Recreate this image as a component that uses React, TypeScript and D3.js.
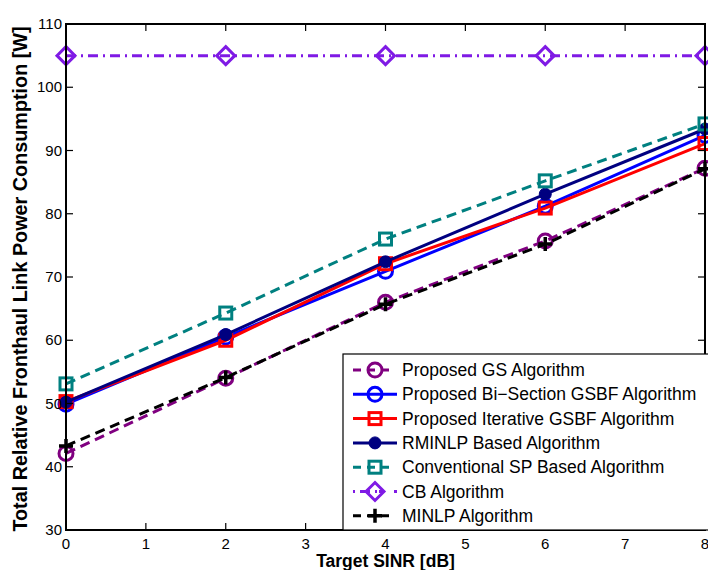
import React from "react";
import * as d3 from "d3";

const xValues = [0, 2, 4, 6, 8];
const gsValues = [42.1, 54.0, 66.0, 75.7, 87.2];
const biValues = [49.9, 60.5, 70.9, 81.2, 92.4];
const iterValues = [50.3, 60.0, 72.1, 80.9, 91.1];
const rminlpValues = [50.2, 60.9, 72.4, 83.1, 93.4];
const spValues = [53.1, 64.3, 76.0, 85.2, 94.2];
const cbValues = [105, 105, 105, 105, 105];
const minlpValues = [43.3, 54.1, 65.7, 75.2, 87.1];

const xTicks = [0, 1, 2, 3, 4, 5, 6, 7, 8];
const yTicks = [30, 40, 50, 60, 70, 80, 90, 100, 110];

const seriesNames = [
  "Proposed GS Algorithm",
  "Proposed Bi\u2212Section GSBF Algorithm",
  "Proposed Iterative GSBF Algorithm",
  "RMINLP Based Algorithm",
  "Conventional SP Based Algorithm",
  "CB Algorithm",
  "MINLP Algorithm",
];

type Marker = "circle" | "square" | "dot" | "diamond" | "plus";
interface S { name: string; values: number[]; color: string; dash: string; marker: Marker; }

const series: S[] = [
  { name: seriesNames[0], values: gsValues, color: "#800080", dash: "10,6", marker: "circle" },
  { name: seriesNames[1], values: biValues, color: "#0000FF", dash: "", marker: "circle" },
  { name: seriesNames[2], values: iterValues, color: "#FF0000", dash: "", marker: "square" },
  { name: seriesNames[3], values: rminlpValues, color: "#000080", dash: "", marker: "dot" },
  { name: seriesNames[4], values: spValues, color: "#008080", dash: "10,6", marker: "square" },
  { name: seriesNames[5], values: cbValues, color: "#7F1AE5", dash: "10,5,2,5", marker: "diamond" },
  { name: seriesNames[6], values: minlpValues, color: "#000000", dash: "10,6", marker: "plus" },
];

const L = 66, R = 705, T = 24, B = 530;
const x = d3.scaleLinear().domain([0, 8]).range([L, R]);
const y = d3.scaleLinear().domain([30, 110]).range([B, T]);

function MarkerShape({ m, cx, cy, color }: { m: Marker; cx: number; cy: number; color: string }) {
  const sw = 3;
  if (m === "circle") return <circle cx={cx} cy={cy} r={7} fill="none" stroke={color} strokeWidth={sw} />;
  if (m === "square") return <rect x={cx - 6} y={cy - 6} width={12} height={12} fill="none" stroke={color} strokeWidth={sw} />;
  if (m === "dot") return <circle cx={cx} cy={cy} r={6} fill={color} stroke={color} strokeWidth={1} />;
  if (m === "diamond") return <path d={`M${cx},${cy - 9}L${cx + 9},${cy}L${cx},${cy + 9}L${cx - 9},${cy}Z`} fill="none" stroke={color} strokeWidth={sw} />;
  return <path d={`M${cx - 7},${cy}H${cx + 7}M${cx},${cy - 7}V${cy + 7}`} fill="none" stroke={color} strokeWidth={3.5} />;
}

export default function App() {
  const line = d3.line<number>().x((_, i) => x(xValues[i])).y((d) => y(d));
  const font = "'Liberation Sans', Arial, Helvetica, sans-serif";
  const legX = 343, legY = 354, legW = 366, legH = 176;
  const rowY = (i: number) => 370 + i * 24.3;
  return (
    <svg width={708} height={570} style={{ position: "absolute", left: 0, top: 0, background: "#fff" }} fontFamily={font}>
      <rect x={0} y={0} width={708} height={570} fill="#fff" />
      {series.map((s, si) => (
        <g key={si}>
          <path d={line(s.values) || ""} fill="none" stroke={s.color} strokeWidth={3} strokeDasharray={s.dash} />
          {s.values.map((v, i) => (
            <MarkerShape key={i} m={s.marker} cx={x(xValues[i])} cy={y(v)} color={s.color} />
          ))}
        </g>
      ))}
      {/* axes box */}
      <rect x={L} y={T} width={R - L} height={B - T} fill="none" stroke="#000" strokeWidth={2} />
      {xTicks.map((t) => (
        <g key={"x" + t}>
          <line x1={x(t)} x2={x(t)} y1={B} y2={B - 7} stroke="#000" strokeWidth={1.2} />
          <line x1={x(t)} x2={x(t)} y1={T} y2={T + 7} stroke="#000" strokeWidth={1.2} />
          <text x={x(t)} y={549} textAnchor="middle" fontSize={15} fill="#000">{t}</text>
        </g>
      ))}
      {yTicks.map((t) => (
        <g key={"y" + t}>
          <line x1={L} x2={L + 7} y1={y(t)} y2={y(t)} stroke="#000" strokeWidth={1.2} />
          <line x1={R} x2={R - 7} y1={y(t)} y2={y(t)} stroke="#000" strokeWidth={1.2} />
          <text x={62} y={y(t) + 5} textAnchor="end" fontSize={15} fill="#000">{t}</text>
        </g>
      ))}
      <text x={(L + R) / 2} y={567} textAnchor="middle" fontSize={17.5} fontWeight="bold" fill="#000">Target SINR [dB]</text>
      <text transform={`translate(27,${279}) rotate(-90)`} textAnchor="middle" fontSize={19.8} fontWeight="bold" fill="#000">
        Total Relative Fronthaul Link Power Consumption [W]
      </text>
      {/* legend */}
      <rect x={legX} y={legY} width={legW} height={legH} fill="#fff" stroke="#000" strokeWidth={1.2} />
      {series.map((s, i) => (
        <g key={"l" + i}>
          <line x1={353} x2={397} y1={rowY(i)} y2={rowY(i)} stroke={s.color} strokeWidth={3} strokeDasharray={s.dash ? (s.marker === "diamond" ? "2,5,10,5,2" : "8,6,8,6,8") : ""} />
          <MarkerShape m={s.marker} cx={375} cy={rowY(i)} color={s.color} />
          <text x={402} y={rowY(i) + 6} fontSize={17.5} fill="#000">{s.name}</text>
        </g>
      ))}
    </svg>
  );
}
